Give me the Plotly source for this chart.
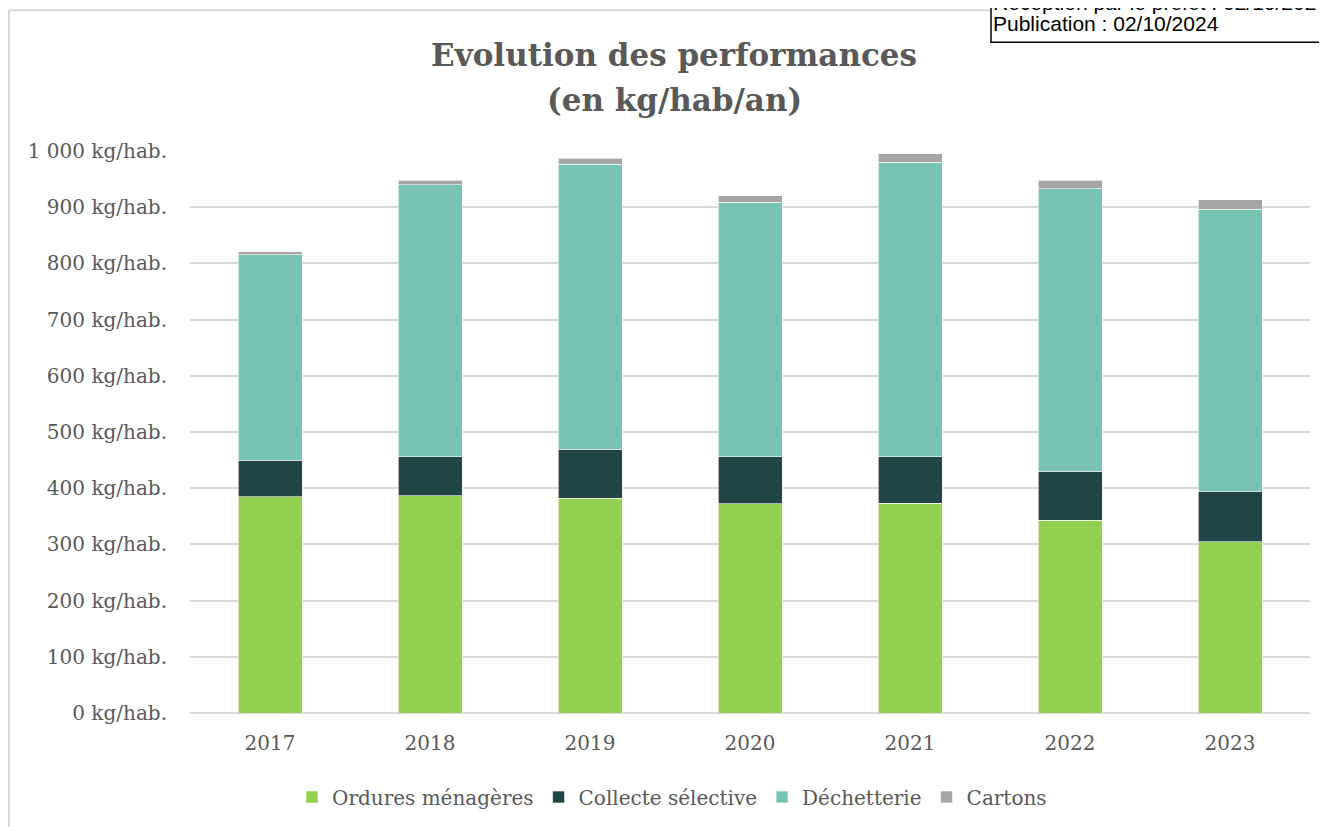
import plotly.graph_objects as go

# Evolution des performances (kg/hab/an)
annees = ["2017", "2018", "2019", "2020", "2021", "2022", "2023"]
ordures_menageres = [385, 387, 382, 372, 373, 343, 305]
collecte_selective = [65, 69, 87, 84, 83, 87, 90]
dechetterie = [365, 484, 507, 453, 524, 503, 501]
cartons = [6, 8, 11, 11, 15, 15, 17]
y_ticks = [0, 100, 200, 300, 400, 500, 600, 700, 800, 900, 1000]
y_labels = ["0 kg/hab.", "100 kg/hab.", "200 kg/hab.", "300 kg/hab.", "400 kg/hab.",
            "500 kg/hab.", "600 kg/hab.", "700 kg/hab.", "800 kg/hab.", "900 kg/hab.",
            "1 000 kg/hab."]

# the page body has an 8px margin, so the figure is drawn 8px smaller
OFF = 8
W, H = 1327 - OFF, 827 - OFF
L, R, T, B = 190 - OFF, 17, 151 - OFF, 113


def px(x):
    # x in page pixels -> paper
    return (x - OFF - L) / (W - L - R)


def py(y):
    # y in page pixels -> paper
    return (H - B - (y - OFF)) / (H - T - B)


series = [
    ("Ordures ménagères", ordures_menageres, "#92D050"),
    ("Collecte sélective", collecte_selective, "#214546"),
    ("Déchetterie", dechetterie, "#78C4B4"),
    ("Cartons", cartons, "#A5A5A5"),
]

fig = go.Figure()
for name, vals, color in series:
    fig.add_trace(go.Bar(
        x=annees, y=vals, name=name,
        marker=dict(color=color, line=dict(color="white", width=0.6)),
        width=0.4,
    ))

serif = "DejaVu Serif, Liberation Serif, serif"
fig.update_layout(
    barmode="stack",
    width=W, height=H,
    margin=dict(l=L, r=R, t=T, b=B),
    paper_bgcolor="white", plot_bgcolor="white",
    font=dict(family=serif, color="#595959", size=20),
    title=dict(text="<b>Evolution des performances</b>",
               x=(674 - OFF) / W, xanchor="center", xref="container",
               y=1 - (55 - OFF) / H, yanchor="middle", yref="container",
               font=dict(size=31, color="#595959", family=serif)),
    xaxis=dict(showgrid=False, showline=False, ticks="",
               tickfont=dict(size=20), range=[-0.5, 6.5], ticklabelstandoff=16),
    yaxis=dict(range=[0, 1000], tickvals=y_ticks, ticktext=y_labels,
               showgrid=True, gridcolor="#D9D9D9", gridwidth=1.5,
               zeroline=True, zerolinecolor="#D9D9D9", zerolinewidth=1.5,
               ticks="", ticklabelstandoff=22, tickfont=dict(size=20)),
    legend=dict(orientation="h", x=px(672), xanchor="center", y=py(797), yanchor="middle",
                font=dict(size=20), traceorder="normal", itemwidth=30),
    bargap=0.6,
)

# second line of the title
fig.add_annotation(xref="paper", yref="paper", x=px(674), y=py(100), xanchor="center",
                   yanchor="middle", showarrow=False,
                   text="<b>(en kg/hab/an)</b>",
                   font=dict(size=31, color="#595959", family=serif))

# cadre du graphique
fig.add_shape(type="line", xref="paper", yref="paper",
              x0=px(OFF + 1), x1=px(OFF + 1), y0=py(10), y1=py(840),
              line=dict(color="#D9D9D9", width=2))
fig.add_shape(type="line", xref="paper", yref="paper",
              x0=px(OFF + 1), x1=px(990), y0=py(10), y1=py(10),
              line=dict(color="#D9D9D9", width=2))
# encart tampon
fig.add_shape(type="rect", xref="paper", yref="paper",
              x0=px(991), x1=px(1340), y0=py(-10), y1=py(42),
              line=dict(color="black", width=1.5), fillcolor="white")
fig.add_annotation(xref="paper", yref="paper", x=px(991), y=py(2), xanchor="left",
                   yanchor="middle", showarrow=False,
                   text="Réception par le préfet : 02/10/2024",
                   font=dict(family="Liberation Sans, Arial", size=21, color="black"))
fig.add_annotation(xref="paper", yref="paper", x=px(991), y=py(23), xanchor="left",
                   yanchor="middle", showarrow=False,
                   text="Publication : 02/10/2024",
                   font=dict(family="Liberation Sans, Arial", size=21, color="black"))

fig.write_html("out.html")
